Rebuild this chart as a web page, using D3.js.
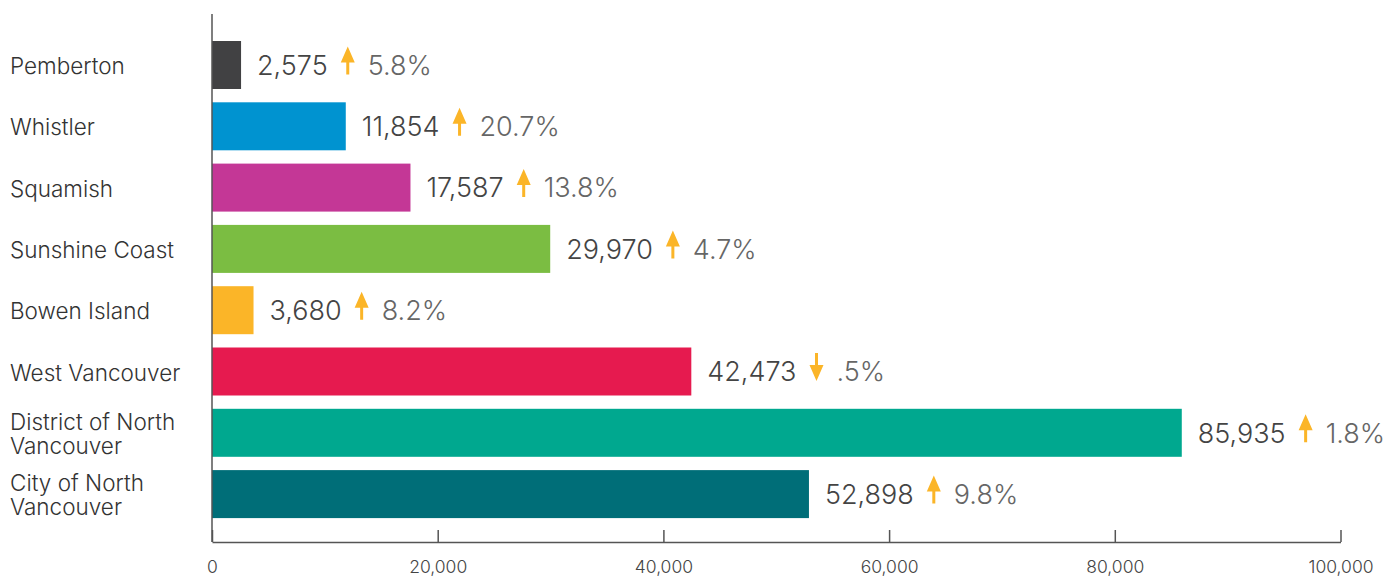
<!DOCTYPE html>
<html><head><meta charset="utf-8">
<script src="https://cdn.jsdelivr.net/npm/d3@7"></script>
<style>
html,body{margin:0;padding:0;background:#fff;}
svg{display:block;font-family:Inter, "Noto Sans", sans-serif;}
</style></head>
<body>
<svg id="chart" width="1393" height="578"></svg>
<script>
const categories = ["Pemberton","Whistler","Squamish","Sunshine Coast","Bowen Island","West Vancouver","District of North Vancouver","City of North Vancouver"];
const labelLines = [["Pemberton"],["Whistler"],["Squamish"],["Sunshine Coast"],["Bowen Island"],["West Vancouver"],["District of North","Vancouver"],["City of North","Vancouver"]];
const populations = [2575, 11854, 17587, 29970, 3680, 42473, 85935, 52898];
const changeLabels = ["5.8%","20.7%","13.8%","4.7%","8.2%",".5%","1.8%","9.8%"];
const changeDirection = ["up","up","up","up","up","down","up","up"];
const colors = ["#414143","#0093d0","#c43796","#7bbd42","#fbb528","#e61a4f","#00a88f","#006e78"];
const tickValues = [0, 20000, 40000, 60000, 80000, 100000];

const svg = d3.select("#chart");
const x = d3.scaleLinear().domain([0, 100000]).range([212, 1340.5]);
const y = d3.scaleBand().domain(categories).range([27.7, 531.4]).paddingInner(0.217).paddingOuter(0.217);
const axisY = 542;

// bottom axis
const xAxis = d3.axisBottom(x).tickValues(tickValues).tickFormat(d3.format(",")).tickSizeInner(-12).tickSizeOuter(0).tickPadding(19);
const gx = svg.append("g").attr("transform", `translate(0,${axisY})`).call(xAxis);
gx.select(".domain").attr("stroke", "#555").attr("stroke-width", 1.5);
gx.selectAll(".tick line").attr("stroke", "#555").attr("stroke-width", 1.5);
gx.selectAll(".tick text").attr("fill", "#444").attr("font-size", 17.5).attr("font-family", "Inter, sans-serif").attr("font-weight", 300);

// bars
svg.append("g").selectAll("rect").data(categories).join("rect")
  .attr("x", x(0)).attr("y", d => y(d))
  .attr("width", (d, i) => x(populations[i]) - x(0))
  .attr("height", y.bandwidth())
  .attr("fill", (d, i) => colors[i]);

// vertical axis line
svg.append("line").attr("x1", x(0)).attr("x2", x(0)).attr("y1", 14).attr("y2", axisY)
  .attr("stroke", "#555").attr("stroke-width", 1.5);

// category labels
const lab = svg.append("g").selectAll("text").data(categories).join("text")
  .attr("x", 10).attr("fill", "#333").attr("font-size", 22.5)
  .attr("font-family", "Inter, sans-serif").attr("font-weight", 300);
lab.each(function(d, i) {
  const lines = labelLines[i];
  const cy = y(d) + y.bandwidth() / 2 + 1;
  const lh = 24;
  const t = d3.select(this);
  lines.forEach((ln, j) => {
    t.append("tspan").attr("x", 10)
      .attr("y", cy + (j - (lines.length - 1) / 2) * lh)
      .attr("dy", "0.36em").text(ln);
  });
});

// value labels, arrows, percents
const ann = svg.append("g");
categories.forEach((c, i) => {
  const cy = y(c) + y.bandwidth() / 2;
  const vx = x(populations[i]) + 16;
  const vt = ann.append("text").attr("x", vx).attr("y", cy).attr("dy", "0.36em")
    .attr("fill", "#444").attr("font-size", 27).attr("font-weight", 300)
    .text(d3.format(",")(populations[i]));
  const w = vt.node().getComputedTextLength();
  const ax = vx + w + 20;
  const baseY = cy + 9.5; // text baseline
  const top = baseY - 28;
  let p;
  if (changeDirection[i] === "up") {
    p = `M${ax},${top} L${ax+7},${top+16} L${ax+1.5},${top+16} L${ax+1.5},${baseY} L${ax-1.5},${baseY} L${ax-1.5},${top+16} L${ax-7},${top+16} Z`;
  } else {
    p = `M${ax},${baseY} L${ax+7},${baseY-16} L${ax+1.5},${baseY-16} L${ax+1.5},${top} L${ax-1.5},${top} L${ax-1.5},${baseY-16} L${ax-7},${baseY-16} Z`;
  }
  ann.append("path").attr("d", p).attr("fill", "#fbb528");
  ann.append("text").attr("x", ax + 20).attr("y", cy).attr("dy", "0.36em")
    .attr("fill", "#666").attr("font-size", 27).attr("font-weight", 300)
    .text(changeLabels[i]);
});
</script>
</body></html>
